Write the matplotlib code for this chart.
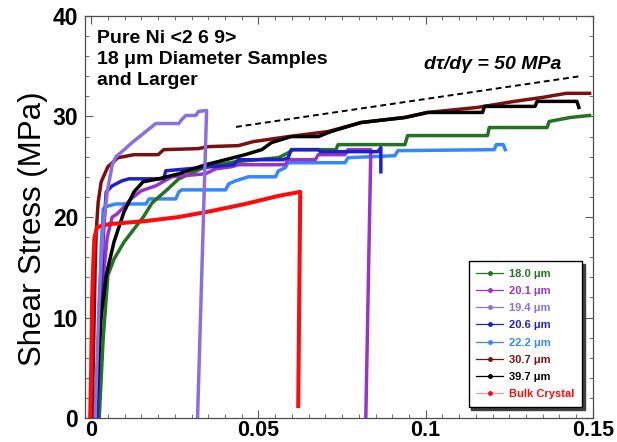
import matplotlib
matplotlib.use('Agg')
import matplotlib.pyplot as plt
from matplotlib.lines import Line2D
from matplotlib.ticker import MultipleLocator

plt.rcParams['font.family'] = ['Liberation Sans', 'DejaVu Sans']

# strain / stress pairs, one pair of lists per sample
x_180 = [0.0024, 0.0036, 0.005, 0.0068, 0.0098, 0.0128, 0.0158, 0.0182, 0.0223, 0.0262, 0.0342, 0.0432,
         0.056, 0.059, 0.0604, 0.0732, 0.0738, 0.0938, 0.0946, 0.1185, 0.119, 0.1363, 0.1369, 0.1432, 0.149]
y_180 = [0, 8, 14.2, 15.8, 17.5, 18.8, 20.1, 21.4, 22.6, 23.8, 25.0, 25.5,
         25.9, 26.4, 26.7, 26.7, 27.2, 27.2, 28.1, 28.1, 28.9, 28.9, 29.5, 29.9, 30.1]

x_201 = [0.0009, 0.0024, 0.0036, 0.0048, 0.0063, 0.0077, 0.0098, 0.0119, 0.0149, 0.0193, 0.0241, 0.0342,
         0.0372, 0.042, 0.044, 0.058, 0.0589, 0.067, 0.0679, 0.0759, 0.0768, 0.0836, 0.0821]
y_201 = [0, 8, 14, 18, 20.0, 20.3, 21.0, 21.8, 22.6, 23.1, 24.0, 24.3,
         24.8, 25.0, 25.2, 25.2, 25.7, 25.7, 26.2, 26.2, 26.7, 26.7, 0]

x_194 = [0.0012, 0.0024, 0.0036, 0.0048, 0.0063, 0.0074, 0.0092, 0.0122, 0.0152, 0.0182, 0.0193, 0.0262,
         0.0271, 0.0283, 0.0313, 0.0321, 0.0345, 0.0318]
y_194 = [0, 12, 19, 22.5, 25.2, 26.0, 26.5, 27.4, 28.2, 29.0, 29.3, 29.3,
         29.7, 30.1, 30.1, 30.5, 30.6, 0]

x_206 = [0.0018, 0.0027, 0.0036, 0.0045, 0.0063, 0.0092, 0.0113, 0.0217, 0.0223, 0.0292, 0.0426, 0.044,
         0.0574, 0.0589, 0.0598, 0.0679, 0.0685, 0.0857, 0.0866, 0.0866]
y_206 = [0, 10, 18, 22.5, 23.1, 23.6, 23.8, 23.8, 24.6, 24.8, 25.2, 25.7,
         25.7, 25.9, 26.7, 26.7, 26.5, 26.5, 26.9, 24.5]

x_222 = [0.0015, 0.0024, 0.003, 0.0036, 0.005, 0.0074, 0.0164, 0.0173, 0.0253, 0.0262, 0.0271, 0.0402,
         0.0411, 0.0432, 0.047, 0.0551, 0.056, 0.058, 0.0589, 0.0759, 0.0768, 0.0908, 0.0917, 0.1205,
         0.1211, 0.1232, 0.1238]
y_222 = [0, 10, 17, 20.8, 21.1, 21.3, 21.3, 21.8, 21.8, 22.5, 22.7, 22.7,
         23.3, 23.6, 24.0, 24.0, 24.6, 24.9, 25.4, 25.4, 25.9, 26.1, 26.6, 26.7,
         27.2, 27.2, 26.7]

x_307 = [0.0003, 0.0012, 0.0015, 0.0021, 0.003, 0.005, 0.008, 0.0128, 0.020, 0.0217, 0.032, 0.035,
         0.044, 0.0485, 0.059, 0.0708, 0.0807, 0.0938, 0.1006, 0.1155, 0.1265, 0.135, 0.142, 0.149]
y_307 = [0, 15, 18.5, 21.5, 23.5, 25.0, 25.9, 26.2, 26.2, 26.7, 26.8, 27.0,
         27.1, 27.5, 28.0, 28.5, 29.4, 29.9, 30.4, 30.9, 31.5, 31.9, 32.3, 32.3]

x_397 = [0.0012, 0.002, 0.003, 0.0045, 0.0068, 0.0098, 0.0128, 0.0155, 0.0202, 0.0262, 0.0342, 0.0402,
         0.046, 0.051, 0.0539, 0.0598, 0.0679, 0.0717, 0.0807, 0.0938, 0.1006, 0.117, 0.1176, 0.1327,
         0.1333, 0.1452, 0.1458]
y_397 = [0, 5, 10.2, 14.2, 17.5, 20.5, 22.5, 23.5, 23.8, 24.3, 25.2, 25.7,
         26.2, 26.7, 27.4, 28.0, 28.0, 28.5, 29.4, 29.9, 30.4, 30.4, 31.0, 31.0,
         31.5, 31.5, 30.9]

x_bulk = [-0.0003, 0.0, 0.0003, 0.0007, 0.001, 0.0018, 0.0054, 0.0164, 0.0262, 0.036, 0.0461, 0.056,
          0.0625, 0.0619]
y_bulk = [0, 5, 12, 16, 18, 19.0, 19.3, 19.6, 20.0, 20.6, 21.3, 22.1,
          22.5, 1.2]

# reference slope line, d tau / d gamma = 50 MPa
x_slope = [0.0433, 0.1461]
y_slope = [28.96, 34.0]

labels = ['18.0 μm', '20.1 μm', '19.4 μm', '20.6 μm', '22.2 μm', '30.7 μm', '39.7 μm', 'Bulk Crystal']
colors = ['#237323', '#9933cc', '#8a6fe0', '#1c22c8', '#3388ff', '#7b1010', '#000000', '#ff0a0a']

fig = plt.figure(figsize=(6.17, 4.42), dpi=100)
ax = fig.add_axes([0.138, 0.054, 0.823, 0.91])

# draw order picked so the overlaps look like the original
lw = 2.5
ax.plot(x_222, y_222, color=colors[4], lw=lw)
ax.plot(x_180, y_180, color=colors[0], lw=lw)
ax.plot(x_201, y_201, color=colors[1], lw=lw)
ax.plot(x_206, y_206, color=colors[3], lw=lw)
ax.plot(x_307, y_307, color=colors[5], lw=lw)
ax.plot(x_397, y_397, color=colors[6], lw=lw)
ax.plot(x_bulk, y_bulk, color=colors[7], lw=2.9)
ax.plot(x_194, y_194, color=colors[2], lw=lw)

ax.plot(x_slope, y_slope, color='black', ls=(0, (3, 2)), lw=1.4)

ax.set_xlim(-0.0018, 0.15)
ax.set_ylim(0, 40)
ax.xaxis.set_major_locator(MultipleLocator(0.05))
ax.xaxis.set_minor_locator(MultipleLocator(0.005))
ax.yaxis.set_major_locator(MultipleLocator(10))
ax.yaxis.set_minor_locator(MultipleLocator(2))
ax.set_xticks([0, 0.05, 0.1, 0.15])
ax.set_xticklabels(['0', '0.05', '0.1', '0.15'])
ax.tick_params(which='both', direction='in', top=True, right=True, color='0.35')
ax.tick_params(which='major', length=6, width=0.8, labelsize=16)
ax.tick_params(axis='x', which='major', pad=1.5, labelsize=15.5)
ax.tick_params(axis='y', which='major', pad=5, labelsize=16.5)
ax.tick_params(which='minor', length=3, width=0.6)
for lab in ax.get_xticklabels() + ax.get_yticklabels():
    lab.set_fontweight('bold')
for sp in ax.spines.values():
    sp.set_color('0.3')
    sp.set_linewidth(0.9)

ax.set_ylabel('Shear Stress (MPa)', fontsize=22.5)
ax.yaxis.set_label_coords(-0.073, 0.47)

ax.text(0.0018, 38.6, 'Pure Ni <2 6 9>\n18 μm Diameter Samples\nand Larger',
        fontsize=14, fontweight='bold', va='top', ha='left', linespacing=1.3)
ax.text(0.0995, 35.2, 'dτ/dγ = 50 MPa', fontsize=14, fontweight='bold', style='italic',
        ha='left', va='center')

handles = []
for i, c in enumerate(colors):
    lc = '#ff9999' if i == 7 else c
    handles.append(Line2D([], [], color=lc, lw=0.9, marker='o', markersize=2.5,
                          markerfacecolor=c, markeredgecolor=c))
leg = ax.legend(handles, labels, loc='lower right', fontsize=8, frameon=True, fancybox=False,
                edgecolor='black', handlelength=2.4, labelspacing=0.65, borderaxespad=1.0,
                borderpad=0.7, handletextpad=0.5, shadow={'color': '0.25', 'alpha': 1.0})
leg.get_frame().set_linewidth(1.0)
for t, c in zip(leg.get_texts(), colors):
    t.set_color(c)
    t.set_fontweight('bold')

fig.savefig('out.png', dpi=100)
